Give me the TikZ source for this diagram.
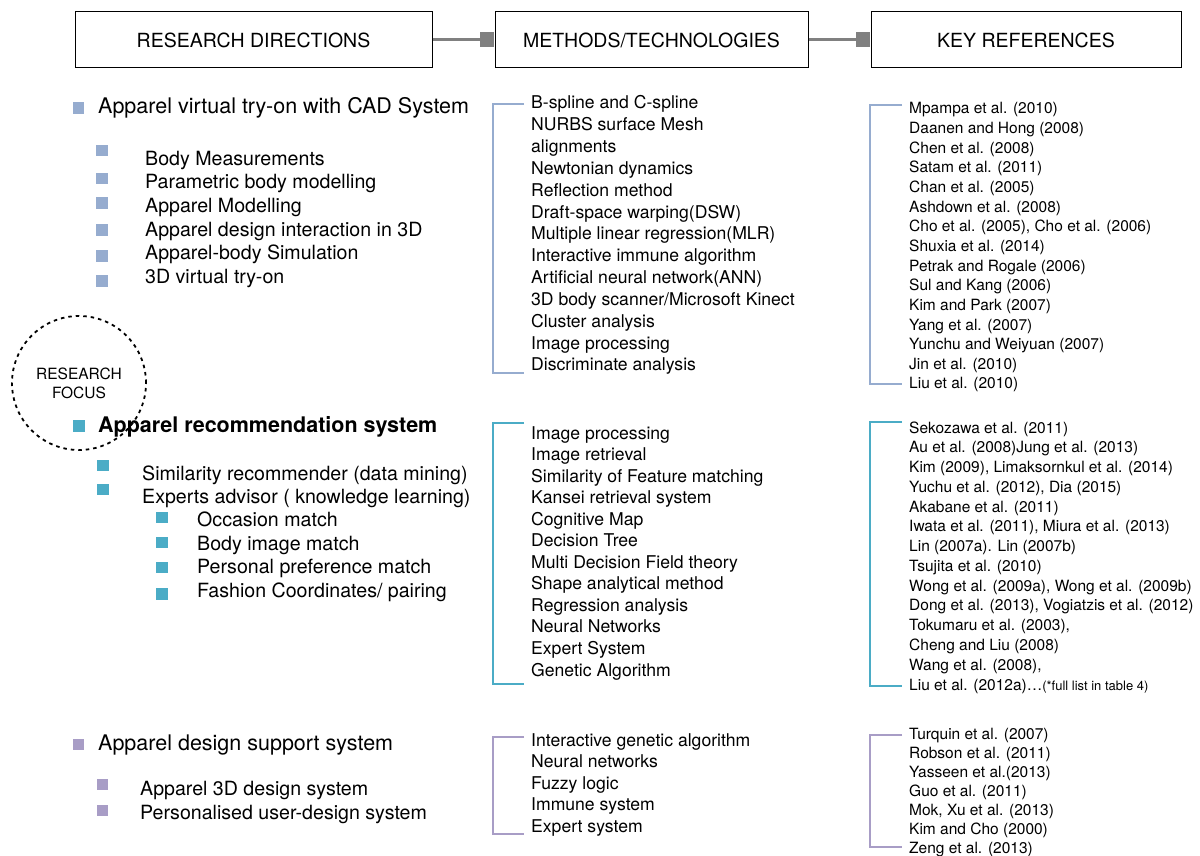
\documentclass[tikz,border=0pt]{standalone}
\usepackage{fontspec}
\setmainfont{TeX Gyre Heros}
\usetikzlibrary{positioning}
\definecolor{dirblue}{RGB}{150,172,207}
\definecolor{recteal}{RGB}{75,172,198}
\definecolor{suppurple}{RGB}{168,157,198}
\definecolor{linkgray}{RGB}{128,128,128}
\tikzstyle{head} = [draw, line width=1pt, minimum height=56pt, inner sep=0pt, font=\fontsize{19.5}{22}\selectfont]
\tikzstyle{knob} = [fill=linkgray, minimum width=14pt, minimum height=15pt, inner sep=0pt]
\tikzstyle{link} = [draw=linkgray, line width=3pt]
\tikzstyle{txt} = [anchor=west, inner sep=0pt, text height=1.3em, text depth=0.1em]
\tikzstyle{topic} = [txt, font=\fontsize{21.5}{24}\selectfont]
\tikzstyle{sub} = [txt, font=\fontsize{19.6}{22}\selectfont]
\tikzstyle{meth} = [txt, font=\fontsize{17.6}{20}\selectfont]
\tikzstyle{cite} = [txt, font=\fontsize{15.5}{18}\selectfont]
\tikzstyle{sq} = [minimum size=11.5pt, inner sep=0pt]
\tikzstyle{brace} = [line width=1.2pt]

\begin{document}
\begin{tikzpicture}[x=1pt, y=-1pt]
    \useasboundingbox (0,0) rectangle (1200,856);
    % column heads
    \draw (253.5,40) node[head, minimum width=357pt] (h1) {RESEARCH DIRECTIONS};
    \draw (651.5,40) node[head, minimum width=313pt] (h2) {METHODS/TECHNOLOGIES};
    \draw (1026,40) node[head, minimum width=310pt] (h3) {KEY REFERENCES};
    \node[knob, left=0pt of h2] (k1) {};
    \node[knob, left=0pt of h3] (k2) {};
    \draw[link] (h1) -- (k1);
    \draw[link] (h2) -- (k2);

    % virtual try-on
    \draw (78.5,108) node[sq, fill=dirblue] (b1) {};
    \draw (98,108) node[topic] (t1) {Apparel virtual try-on with CAD System};
    \foreach \y [count=\i] in {150.5, 178.5, 203, 230, 256, 281} {
        \path (102,\y) node[sq, fill=dirblue] (b1\i) {};
    }
    \draw (145,159) node[sub] (t11) {Body Measurements};
    \draw (145,183) node[sub] (t12) {Parametric body modelling};
    \draw (145,206) node[sub] (t13) {Apparel Modelling};
    \draw (145,230) node[sub] (t14) {Apparel design interaction in 3D};
    \draw (145,253) node[sub] (t15) {Apparel-body Simulation};
    \draw (145,277) node[sub] (t16) {3D virtual try-on};

    \foreach \t [count=\i] in {B-spline and C-spline, NURBS surface Mesh, alignments,
        Newtonian dynamics, Reflection method, Draft-space warping(DSW),
        Multiple linear regression(MLR), Interactive immune algorithm,
        Artificial neural network(ANN), 3D body scanner/Microsoft Kinect,
        Cluster analysis, Image processing, Discriminate analysis} {
        \path (531,103+21.83*\i-21.83) node[meth] (m1\i) {\t};
    }
    \draw[brace, dirblue] (524,104) -- (493,104) -- (493,373) -- (524,373);

    \foreach \t [count=\i] in {Mpampa et al. (2010), Daanen and Hong (2008), Chen et al. (2008),
        Satam et al. (2011), Chan et al. (2005), Ashdown et al. (2008),
        {Cho et al. (2005), Cho et al. (2006)}, Shuxia et al. (2014),
        Petrak and Rogale (2006), Sul and Kang (2006), Kim and Park (2007),
        Yang et al. (2007), Yunchu and Weiyuan (2007), Jin et al. (2010), Liu et al. (2010)} {
        \path (909,108+19.64*\i-19.64) node[cite] (r1\i) {\t};
    }
    \draw[brace, dirblue] (902,105) -- (870,105) -- (870,384) -- (902,384);

    % recommendation
    \draw (79,426) node[sq, fill=recteal] (b2) {};
    \draw (98,426) node[topic, font=\fontsize{21.5}{24}\selectfont\bfseries] (t2) {Apparel recommendation system};
    \draw (103,465.5) node[sq, fill=recteal] (b21) {};
    \draw (103,489.5) node[sq, fill=recteal] (b22) {};
    \draw (142,474) node[sub] (t21) {Similarity recommender (data mining)};
    \draw (142,497) node[sub] (t22) {Experts advisor ( knowledge learning)};
    \draw (162,517.5) node[sq, fill=recteal] (b23) {};
    \draw (162,542.5) node[sq, fill=recteal] (b24) {};
    \draw (162,567.5) node[sq, fill=recteal] (b25) {};
    \draw (162,594) node[sq, fill=recteal] (b26) {};
    \draw (197,520) node[sub] (t23) {Occasion match};
    \draw (197,544) node[sub] (t24) {Body image match};
    \draw (197,567) node[sub] (t25) {Personal preference match};
    \draw (197,591) node[sub] (t26) {Fashion Coordinates/ pairing};

    \foreach \t [count=\i] in {Image processing, Image retrieval, Similarity of Feature matching,
        Kansei retrieval system, Cognitive Map, Decision Tree, Multi Decision Field theory,
        Shape analytical method, Regression analysis, Neural Networks, Expert System,
        Genetic Algorithm} {
        \path (531,433+21.55*\i-21.55) node[meth] (m2\i) {\t};
    }
    \draw[brace, recteal] (524,423) -- (493,423) -- (493,684) -- (524,684);

    \foreach \t [count=\i] in {Sekozawa et al. (2011), Au et al. (2008)Jung et al. (2013),
        {Kim (2009), Limaksornkul et al. (2014)}, {Yuchu et al. (2012), Dia (2015)},
        Akabane et al. (2011), {Iwata et al. (2011), Miura et al. (2013)},
        Lin (2007a). Lin (2007b), Tsujita et al. (2010),
        {Wong et al. (2009a), Wong et al. (2009b)}, {Dong et al. (2013), Vogiatzis et al. (2012)},
        {Tokumaru et al. (2003),}, Cheng and Liu (2008), {Wang et al. (2008),},
        {Liu et al. (2012a)\dots{\fontsize{13}{14}\selectfont(*full list in table 4)}}} {
        \path (909,427+19.77*\i-19.77) node[cite] (r2\i) {\t};
    }
    \draw[brace, recteal] (902,422) -- (870,422) -- (870,686) -- (902,686);

    % design support
    \draw (78.5,744.5) node[sq, fill=suppurple] (b3) {};
    \draw (98,744) node[topic] (t3) {Apparel design support system};
    \draw (102.5,784.5) node[sq, fill=suppurple] (b31) {};
    \draw (102.5,810.5) node[sq, fill=suppurple] (b32) {};
    \draw (140,789) node[sub] (t31) {Apparel 3D design system};
    \draw (140,813) node[sub] (t32) {Personalised user-design system};

    \foreach \t [count=\i] in {Interactive genetic algorithm, Neural networks, Fuzzy logic,
        Immune system, Expert system} {
        \path (531,740+21.5*\i-21.5) node[meth] (m3\i) {\t};
    }
    \draw[brace, suppurple] (524,737) -- (493,737) -- (493,834) -- (524,834);

    \foreach \t [count=\i] in {Turquin et al. (2007), Robson et al. (2011), Yasseen et al.(2013),
        Guo et al. (2011), {Mok, Xu et al. (2013)}, Kim and Cho (2000), Zeng et al. (2013)} {
        \path (909,733+19*\i-19) node[cite] (r3\i) {\t};
    }
    \draw[brace, suppurple] (902,735) -- (870,735) -- (870,847) -- (902,847);

    % focus ring
    \draw (79,383) node[circle, draw, minimum size=134pt, line width=1.8pt,
        dash pattern=on 3.5pt off 4pt, align=center,
        font=\fontsize{15.5}{19}\selectfont] (focus) {RESEARCH\\FOCUS};
\end{tikzpicture}
\end{document}
